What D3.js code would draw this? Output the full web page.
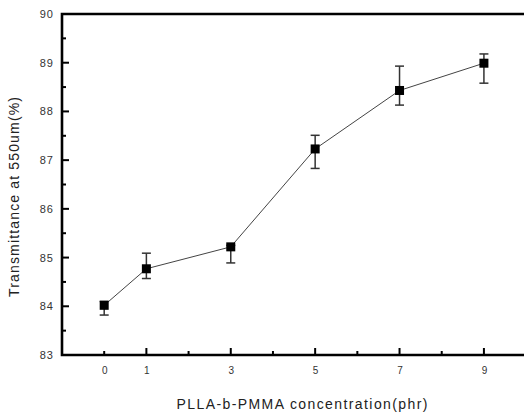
<!DOCTYPE html>
<html><head><meta charset="utf-8">
<script src="https://cdn.jsdelivr.net/npm/d3@7"></script>
<style>body{margin:0;background:#fff}svg{display:block}</style>
</head><body>
<svg id="c" width="525" height="416"></svg>
<script>
const concentrations = [0, 1, 3, 5, 7, 9];
const transmittance = [84.02, 84.77, 85.22, 87.23, 88.43, 88.99];
const errUpper = [84.10, 85.09, 85.25, 87.51, 88.93, 89.18];
const errLower = [83.82, 84.57, 84.89, 86.83, 88.13, 88.58];
const xTickLabels = [0, 1, 3, 5, 7, 9];
const xMinorTicks = [0, 2, 4, 6, 8];
const yTicks = [83, 84, 85, 86, 87, 88, 89, 90];
const yMinorTicks = [83.5, 84.5, 85.5, 86.5, 87.5, 88.5, 89.5];

const svg = d3.select("#c");
const L = 62, R = 524, T = 14, B = 355;
const x = d3.scaleLinear().domain([-1, 9.95]).range([L, R]);
const y = d3.scaleLinear().domain([83, 90]).range([B, T]);

const tickCol = "#333";
// y axis
const yAxis = d3.axisLeft(y).tickValues(yTicks).tickSize(0).tickPadding(8).tickFormat(d3.format("d"));
const ga = svg.append("g").attr("transform", `translate(${L},0)`).call(yAxis);
ga.select(".domain").remove();
ga.selectAll("text").attr("font-family", "Arial, 'Liberation Sans', sans-serif").attr("font-size", 11).attr("fill", tickCol).attr("letter-spacing", "1px");
svg.append("g").selectAll("line").data(yTicks).join("line")
  .attr("x1", L).attr("x2", L + 7).attr("y1", d => y(d)).attr("y2", d => y(d))
  .attr("stroke", "#000").attr("stroke-width", 2);
svg.append("g").selectAll("line").data(yMinorTicks).join("line")
  .attr("x1", L).attr("x2", L + 4).attr("y1", d => y(d)).attr("y2", d => y(d))
  .attr("stroke", "#000").attr("stroke-width", 2);

// x axis
const xAxis = d3.axisBottom(x).tickValues(xTickLabels).tickSize(0).tickPadding(12).tickFormat(d3.format("d"));
const gx = svg.append("g").attr("transform", `translate(0,${B})`).call(xAxis);
gx.select(".domain").remove();
gx.selectAll("text").attr("font-family", "Arial, 'Liberation Sans', sans-serif").attr("font-size", 10).attr("fill", tickCol);
svg.append("g").selectAll("line").data(xTickLabels.filter(d => d !== 0)).join("line")
  .attr("x1", d => x(d)).attr("x2", d => x(d)).attr("y1", B).attr("y2", B - 7)
  .attr("stroke", "#000").attr("stroke-width", 2);
svg.append("g").selectAll("line").data(xMinorTicks).join("line")
  .attr("x1", d => x(d)).attr("x2", d => x(d)).attr("y1", B).attr("y2", B - 4)
  .attr("stroke", "#000").attr("stroke-width", 2);

// frame
svg.append("path").attr("d", `M${R},${T}H${L}V${B}H${R}`).attr("fill", "none")
  .attr("stroke", "#000").attr("stroke-width", 2.6);

const pts = concentrations.map((c, i) => ({c, v: transmittance[i], hi: errUpper[i], lo: errLower[i]}));

// line
svg.append("path").datum(pts)
  .attr("d", d3.line().x(d => x(d.c)).y(d => y(d.v)))
  .attr("fill", "none").attr("stroke", "#444").attr("stroke-width", 1);

// error bars
const eb = svg.append("g").attr("stroke", "#333").attr("stroke-width", 1.5);
eb.selectAll(".v").data(pts).join("line")
  .attr("x1", d => x(d.c)).attr("x2", d => x(d.c)).attr("y1", d => y(d.lo)).attr("y2", d => y(d.hi));
eb.selectAll(".h").data(pts).join("line")
  .attr("x1", d => x(d.c) - 4.5).attr("x2", d => x(d.c) + 4.5).attr("y1", d => y(d.hi)).attr("y2", d => y(d.hi));
eb.selectAll(".l").data(pts).join("line")
  .attr("x1", d => x(d.c) - 4.5).attr("x2", d => x(d.c) + 4.5).attr("y1", d => y(d.lo)).attr("y2", d => y(d.lo));

// markers
svg.append("g").selectAll("rect").data(pts).join("rect")
  .attr("x", d => x(d.c) - 4.5).attr("y", d => y(d.v) - 4.5)
  .attr("width", 9).attr("height", 9).attr("fill", "#000");

// labels
svg.append("text").attr("x", 302).attr("y", 409).attr("text-anchor", "middle")
  .attr("font-family", "Arial, 'Liberation Sans', sans-serif").attr("font-size", 14).attr("fill", "#222")
  .attr("textLength", 251).attr("lengthAdjust", "spacing")
  .text("PLLA-b-PMMA concentration(phr)");
svg.append("text").attr("transform", "translate(19,197) rotate(-90)").attr("text-anchor", "middle")
  .attr("font-family", "Arial, 'Liberation Sans', sans-serif").attr("font-size", 14).attr("fill", "#222")
  .attr("textLength", 200).attr("lengthAdjust", "spacing")
  .text("Transmittance at 550um(%)");
</script>
</body></html>
